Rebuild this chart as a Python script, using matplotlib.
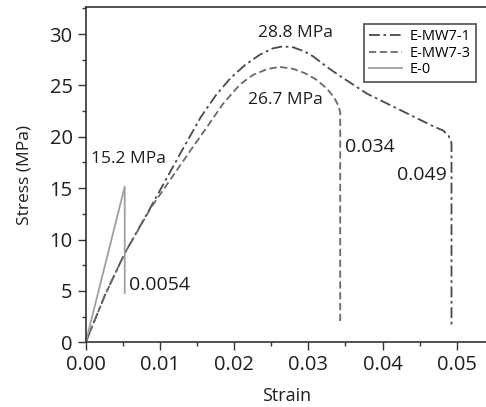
import matplotlib
matplotlib.use("Agg")
from matplotlib import pyplot as plt
from matplotlib.ticker import MultipleLocator

# ------------------------------------------------------------------------------
# Data
# ------------------------------------------------------------------------------
strain_mw71 = [0, 0.0026, 0.00526, 0.0088, 0.0130, 0.0155, 0.0175, 0.0195, 0.0215,
               0.0235, 0.0252, 0.0266, 0.0280, 0.0295, 0.0307, 0.0325, 0.0343,
               0.0379, 0.0424, 0.0469, 0.0482, 0.0489, 0.0493, 0.0493, 0.0493]
stress_mw71 = [0, 4.6, 8.66, 13.2, 18.7, 21.9, 24.0, 25.7, 27.0,
               28.0, 28.6, 28.8, 28.7, 28.3, 27.8, 26.8, 25.9,
               24.2, 22.6, 21.0, 20.6, 20.1, 19.4, 10.0, 1.4]

strain_mw73 = [0, 0.0026, 0.00526, 0.0088, 0.01415, 0.0163, 0.0185, 0.0208, 0.0225,
               0.0245, 0.0262, 0.0280, 0.0295, 0.0310, 0.0325, 0.0335, 0.0340,
               0.0343, 0.0343]
stress_mw73 = [0, 4.6, 8.66, 13.1, 18.7, 20.9, 23.2, 25.1, 26.0,
               26.6, 26.8, 26.6, 26.2, 25.6, 24.7, 23.8, 23.1,
               22.4, 1.8]

strain_e0 = [0, 0.00526, 0.00526]
stress_e0 = [0, 15.15, 4.8]

labels = ["E-MW7-1", "E-MW7-3", "E-0"]

# ------------------------------------------------------------------------------
# Plot characteristics
# ------------------------------------------------------------------------------
plt.rcParams['font.family'] = ['Open Sans', 'DejaVu Sans']
plt.rcParams['font.size'] = 12

fig = plt.figure(figsize=(4.86, 4.07), dpi=100)
ax = fig.add_axes([85.7/486, (407-342.3)/407, (488-85.7)/486, (342.3-7.3)/407])

ax.plot(strain_mw71, stress_mw71, color='#4a4a4a', lw=1.3,
        dashes=(6, 2, 1.5, 2), label=labels[0])
ax.plot(strain_mw73, stress_mw73, color='#6a6a6a', lw=1.3,
        dashes=(4, 2), label=labels[1])
ax.plot(strain_e0, stress_e0, color='#a0a0a0', lw=1.3, label=labels[2])

txt = '#1e1e1e'
ax.text(0.0282, 30.1, "28.8 MPa", ha='center', va='center', color=txt, fontsize=12.5)
ax.text(0.0269, 23.6, "26.7 MPa", ha='center', va='center', color=txt, fontsize=12.5)
ax.text(0.0057, 17.8, "15.2 MPa", ha='center', va='center', color=txt, fontsize=12.5)
ax.text(0.0059, 5.6, "0.0054", ha='left', va='center', color=txt, fontsize=14)
ax.text(0.03495, 19.0, "0.034", ha='left', va='center', color=txt, fontsize=14)
ax.text(0.0487, 16.3, "0.049", ha='right', va='center', color=txt, fontsize=14)

ax.set_xlim(0, (488-85.7)/7420)
ax.set_ylim(0, 32.6)
ax.xaxis.set_major_locator(MultipleLocator(0.01))
ax.xaxis.set_minor_locator(MultipleLocator(0.005))
ax.yaxis.set_major_locator(MultipleLocator(5))
ax.yaxis.set_minor_locator(MultipleLocator(2.5))
ax.xaxis.set_major_formatter(plt.FormatStrFormatter('%.2f'))
ax.tick_params(which='major', direction='out', length=6, width=1, colors='#333333',
               labelcolor=txt, labelsize=14.5)
ax.tick_params(which='minor', direction='out', length=3, width=1, colors='#333333')
for sp in ax.spines.values():
    sp.set_color('#333333')
    sp.set_linewidth(1.2)

ax.set_xlabel("Strain", color=txt, fontsize=13, labelpad=8)
ax.set_ylabel("Stress (MPa)", color=txt, fontsize=12.5, labelpad=12)

leg = ax.legend(loc='upper right', bbox_to_anchor=(0.9876, 0.971), fontsize=10.5,
                frameon=True, fancybox=False, handlelength=2.3, handletextpad=0.5,
                labelspacing=0.1, borderpad=0.35)
leg.get_frame().set_edgecolor('#222222')
leg.get_frame().set_linewidth(1.2)

plt.savefig('out.png', dpi=100)
